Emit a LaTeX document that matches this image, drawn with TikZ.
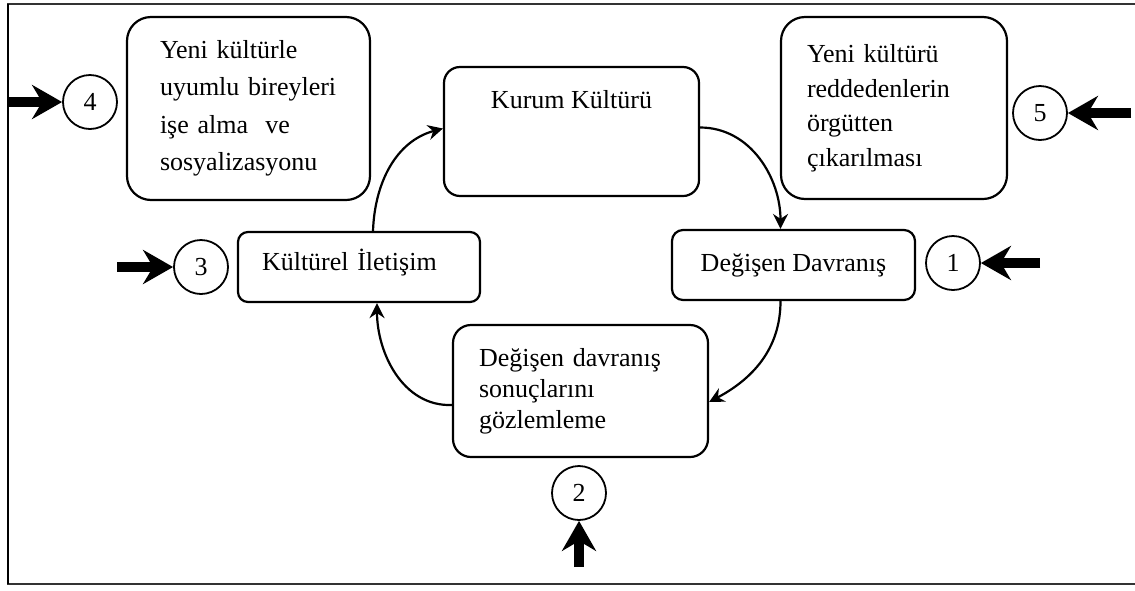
\documentclass[tikz,border=0pt]{standalone}
\usepackage{fontspec}
\setmainfont{Liberation Serif}
\usetikzlibrary{arrows.meta,calc}

\begin{document}
\begin{tikzpicture}[x=1pt,y=-1pt,
  box/.style={draw, line width=2.2pt, inner ysep=0pt},
  num/.style={draw, circle, line width=1.8pt, minimum size=54pt, inner sep=0pt,
    font=\fontsize{26}{26}\selectfont},
  flow/.style={line width=2.2pt, -{Stealth[length=15pt,width=15pt,inset=5pt]}},
  push/.style={line width=10pt, -{Stealth[length=30pt,width=34pt,inset=10pt]}},
  frameline/.style={line width=2pt, draw=black!80}]

\useasboundingbox (0,0) rectangle (1135,590);

% outer frame (left, top, bottom)
\draw[frameline] (1135,4) -- (8,4) -- (8,584) -- (1135,584);
\draw[line width=2.6pt] (8,4) -- (8,584);

% boxes
\node[box, rounded corners=24pt, minimum width=243pt, minimum height=183pt,
  text width=177pt, inner xsep=33pt, align=left,
  font=\fontsize{26}{37.5}\selectfont] (hire) at (248.5,108.5)
  {Yeni kültürle\\uyumlu bireyleri\\işe alma\ \ ve\\sosyalizasyonu};

\node[box, rounded corners=24pt, minimum width=226pt, minimum height=182pt,
  text width=174pt, inner xsep=26pt, align=left,
  font=\fontsize{26}{34.5}\selectfont] (reject) at (894,108)
  {Yeni kültürü\\reddedenlerin\\örgütten\\çıkarılması};

\node[box, rounded corners=16pt, minimum width=255pt, minimum height=129pt,
  text height=41pt, text depth=88pt, align=center,
  font=\fontsize{26}{31}\selectfont] (kurum) at (571.5,131.5) {Kurum Kültürü};

\node[box, rounded corners=11pt, minimum width=243pt, minimum height=70pt,
  text height=41pt, text depth=29pt, align=center,
  font=\fontsize{26}{31}\selectfont] (davranis) at (793.5,265) {Değişen Davranış};

\node[box, rounded corners=10pt, minimum width=242pt, minimum height=70pt,
  text width=194pt, inner xsep=24pt, text height=38pt, text depth=32pt, align=left,
  font=\fontsize{26}{31}\selectfont] (iletisim) at (359,267) {Kültürel İletişim};

\node[box, rounded corners=18pt, minimum width=255pt, minimum height=132pt,
  text width=203pt, inner xsep=26pt, align=left,
  font=\fontsize{26}{31}\selectfont] (gozlem) at (580.5,391)
  {Değişen davranış\\sonuçlarını\\gözlemleme};

% numbered circles
\node[num] (n1) at (953,263) {1};
\node[num] (n2) at (579,493) {2};
\node[num] (n3) at (201,267) {3};
\node[num] (n4) at (90,102) {4};
\node[num] (n5) at (1040,113) {5};

% cycle connectors
\draw[flow] ([xshift=14pt]iletisim.north) to[out=88,in=195] ([yshift=3pt]kurum.west);
\draw[flow] ([yshift=4pt]kurum.east) to[out=0,in=90] ([xshift=-13pt]davranis.north);
\draw[flow] ([xshift=-13pt]davranis.south) to[out=-90,in=28] ([yshift=-11pt]gozlem.east);
\draw[flow] ([yshift=-14pt]gozlem.west) to[out=182,in=-90] ([xshift=18pt]iletisim.south);

% incoming thick arrows
\coordinate (p1) at (1040,263);
\coordinate (p2) at (579,567);
\coordinate (p3) at (117,267);
\coordinate (p4) at (8,102);
\coordinate (p5) at (1131,113);
\draw[push] (p1) -- (n1.east);
\draw[push] (p2) -- (n2.south);
\draw[push] (p3) -- (n3.west);
\draw[push] (p4) -- (n4.west);
\draw[push] (p5) -- (n5.east);

\end{tikzpicture}
\end{document}
